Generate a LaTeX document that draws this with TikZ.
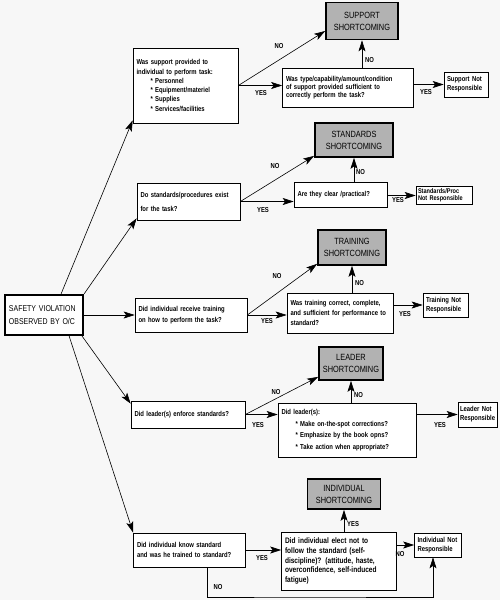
\documentclass[tikz,border=0pt]{standalone}
\usepackage{fontspec}
\setmainfont{Liberation Sans}
\newfontfamily\cond{Liberation Sans}[FakeStretch=0.82]
\usetikzlibrary{arrows.meta}
\newcommand\qf[2][7.2]{\cond\bfseries\fontsize{#1}{#2}\selectfont}
\tikzset{
  qbox/.style={draw, line width=0.7pt, fill=white, align=left, inner xsep=3.5pt, inner ysep=1pt, font=\qf{9.5}},
  sbox/.style={draw, line width=1.7pt, fill=gray!60, align=center, inner sep=1pt, font=\cond\fontsize{9}{12}\selectfont},
  conn/.style={draw, line width=0.6pt, -{Stealth[length=11pt,width=7pt,inset=2.5pt]}},
  lbl/.style={font=\qf{8}, inner sep=0pt},
}
\begin{document}
\begin{tikzpicture}[x=1pt,y=-1pt]
\path[use as bounding box, fill=gray!6] (0,0) rectangle (500,600);

% start node
\node[draw, line width=2.2pt, fill=white, align=left, minimum width=78pt, minimum height=40pt, text width=70pt, inner xsep=4pt,
      font=\cond\fontsize{8.5}{13}\selectfont] (sv) at (44,315) {SAFETY VIOLATION\\OBSERVED BY O/C};

% row 1
\node[qbox, text width=98pt, minimum height=75pt, font=\qf{9.3}] (q1) at (185.5,85.5)
  {Was support provided to\\individual to perform task:\\\hspace*{14pt}* Personnel\\\hspace*{14pt}* Equipment/materiel\\\hspace*{14pt}* Supplies\\\hspace*{14pt}* Services/facilities};
\node[qbox, text width=124pt, minimum height=39pt, font=\qf{8.2}] (q1b) at (348,87.5)
  {Was type/capability/amount/condition\\of support provided sufficient to\\correctly perform the task?};
\node[sbox, minimum width=72pt, minimum height=37pt] (s1) at (362,21) {SUPPORT\\SHORTCOMING};
\node[qbox, text width=38pt, minimum height=25pt, inner xsep=3pt, font=\qf{9.2}] (r1) at (466,84.5) {Support Not\\Responsible};

% row 2
\node[qbox, text width=96pt, minimum height=37pt, font=\qf{14}] (q2) at (188.5,201.5)
  {Do standards/procedures exist\\for the task?};
\node[qbox, text width=86pt, minimum height=25pt] (q2b) at (340.5,194.5) {Are they clear /practical?};
\node[sbox, minimum width=78pt, minimum height=34pt] (s2) at (354,140) {STANDARDS\\SHORTCOMING};
\node[qbox, text width=52pt, minimum height=18pt, inner xsep=2pt, inner ysep=0pt, font={\qf[6.8]{7}}] (r2) at (444,195.5) {Standards/Proc\\Not Responsible};

% row 3
\node[qbox, text width=105pt, minimum height=34pt, font=\qf{11.7}] (q3) at (191,315)
  {Did individual receive training\\on how to perform the task?};
\node[qbox, text width=99pt, minimum height=40pt, font=\qf{10}] (q3b) at (340,313)
  {Was training correct, complete,\\and sufficient for performance to\\standard?};
\node[sbox, minimum width=68pt, minimum height=35pt] (s3) at (352,247.5) {TRAINING\\SHORTCOMING};
\node[qbox, text width=39pt, minimum height=24pt, inner xsep=3pt, font=\qf{8.5}] (r3) at (445.5,305) {Training Not\\Responsible};

% row 4
\node[qbox, text width=107pt, minimum height=27pt] (q4) at (188,414.5) {Did leader(s) enforce standards?};
\node[qbox, text width=131pt, minimum height=54pt, font=\qf{11.5}] (q4b) at (347,430)
  {Did leader(s):\\\hspace*{14pt}* Make on-the-spot corrections?\\\hspace*{14pt}* Emphasize by the book opns?\\\hspace*{14pt}* Take action when appropriate?};
\node[sbox, minimum width=64pt, minimum height=33pt] (s4) at (351,363.5) {LEADER\\SHORTCOMING};
\node[qbox, text width=35pt, minimum height=25pt, inner xsep=2pt, font=\qf{9}] (r4) at (477.5,414.5) {Leader Not\\Responsible};

% row 5
\node[qbox, text width=105pt, minimum height=34pt, font=\qf{9.7}] (q5) at (189.5,550)
  {Did individual know standard\\and was he trained to standard?};
\node[qbox, text width=108pt, minimum height=58pt, font={\qf[8]{9.7}}] (q5b) at (339,561)
  {Did individual elect not to\\follow the standard (self-\\discipline)? (attitude, haste,\\overconfidence, self-induced\\fatigue)};
\node[sbox, minimum width=73pt, minimum height=30pt] (s5) at (344,494) {INDIVIDUAL\\SHORTCOMING};
\node[qbox, text width=41pt, minimum height=24pt, inner xsep=3pt, font=\qf{9}] (r5) at (438,545) {Individual Not\\Responsible};

\coordinate (loopY) at (300,597);

% connectors from start
\draw[conn] (sv.51) -- ([yshift=3pt]q1.south west);
\draw[conn] (sv.north east) -- ([yshift=2pt]q2.south west);
\draw[conn] (sv.east) -- (q3.west);
\draw[conn] (sv.-29) -- ([yshift=-3pt]q4.north west);
\draw[conn] (sv.-40) -- (q5.north west);

% row 1
\draw[conn] (q1.east) -- ([yshift=-10pt]s1.west);
\draw[conn] (q1.east) -- (q1b.west |- q1.east);
\draw[conn] (q1b.north -| s1.south) -- (s1.south);
\draw[conn] (q1b.east |- r1.west) -- (r1.west);
\node[lbl] (l1a) at (279,46) {NO};
\node[lbl] (l1b) at (261,93) {YES};
\node[lbl, anchor=west] (l1c) at (365,60) {NO};
\node[lbl] (l1d) at (426,92) {YES};

% row 2
\draw[conn] (q2.east) -- ([yshift=2pt]s2.south west);
\draw[conn] (q2.east) -- (q2b.west |- q2.east);
\draw[conn] (q2b.north -| s2.south) -- (s2.south);
\draw[conn] (q2b.east |- r2.west) -- (r2.west);
\node[lbl] (l2a) at (275,166) {NO};
\node[lbl] (l2b) at (263,210) {YES};
\node[lbl, anchor=west] (l2c) at (356,172) {NO};
\node[lbl] (l2d) at (398,200) {YES};

% row 3
\draw[conn] (q3.east) -- ([yshift=2pt]s3.south west);
\draw[conn] (q3.east) -- (q3b.west |- q3.east);
\draw[conn] (q3b.north -| s3.south) -- (s3.south);
\draw[conn] (q3b.east |- r3.west) -- (r3.west);
\node[lbl] (l3a) at (277,276) {NO};
\node[lbl] (l3b) at (267,321) {YES};
\node[lbl, anchor=west] (l3c) at (355,283) {NO};
\node[lbl] (l3d) at (405,314) {YES};

% row 4
\draw[conn] (q4.east) -- ([yshift=4pt]s4.south west);
\draw[conn] (q4.east) -- (q4b.west |- q4.east);
\draw[conn] (q4b.north -| s4.south) -- (s4.south);
\draw[conn] (q4b.east |- r4.west) -- (r4.west);
\node[lbl] (l4a) at (276,392) {NO};
\node[lbl] (l4b) at (258,425) {YES};
\node[lbl, anchor=west] (l4c) at (354,395) {NO};
\node[lbl] (l4d) at (440,425) {YES};

% row 5
\draw[conn] (q5.east) -- (q5b.west |- q5.east);
\draw[conn] (q5b.north -| s5.south) -- (s5.south);
\draw[conn] (q5b.east |- r5.west) -- (r5.west);
\draw[conn] ([xshift=17.5pt]q5.south) |- (loopY) -| ([xshift=-5pt]r5.south);
\node[lbl] (l5a) at (262,558) {YES};
\node[lbl, anchor=west] (l5b) at (347,524) {YES};
\node[lbl] (l5c) at (400,554) {NO};
\node[lbl] (l5d) at (218,587) {NO};
\end{tikzpicture}
\end{document}
